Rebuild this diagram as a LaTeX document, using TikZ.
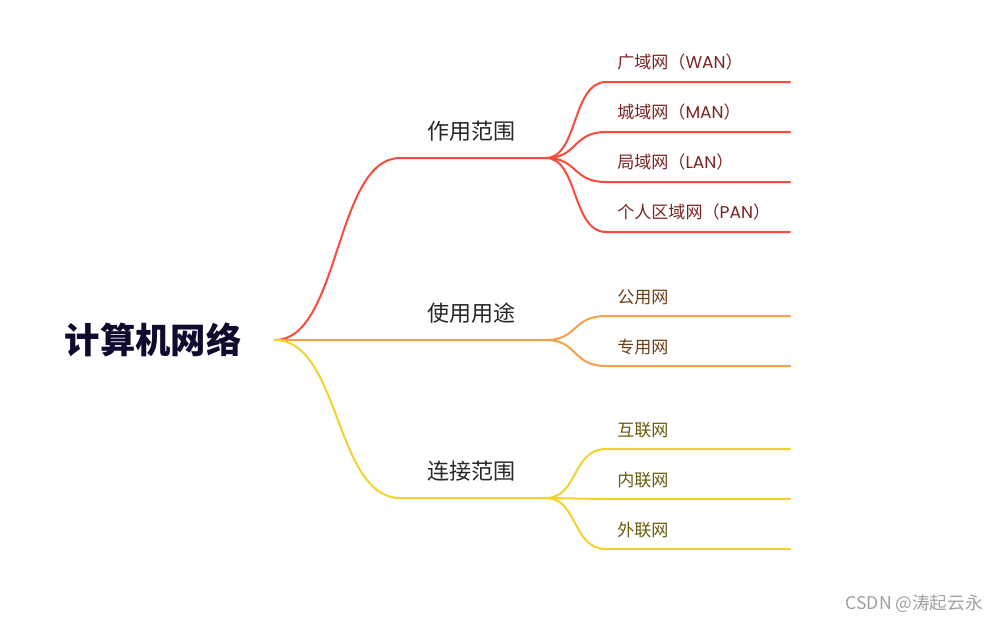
\documentclass[tikz,border=0pt]{standalone}
\usepackage{fontspec}
\setmainfont{Noto Sans CJK SC}
\newfontfamily\latinpart{Poppins}
\usepackage{xcolor}
\usepackage{tikz}
\definecolor{rootink}{HTML}{0E0B2F}
\definecolor{branchink}{HTML}{262626}
\definecolor{redline}{HTML}{F94A3E}
\definecolor{redink}{HTML}{7B2323}
\definecolor{orangeline}{HTML}{F7A04C}
\definecolor{orangeink}{HTML}{6E3E12}
\definecolor{yellowline}{HTML}{F4D22E}
\definecolor{yellowink}{HTML}{6A5A0C}
\definecolor{markgray}{HTML}{A0A0A0}
\newcommand{\abbr}[1]{{\latinpart #1}}
\tikzset{
  rootnode/.style={font=\fontsize{26.5}{30}\selectfont\bfseries,text=rootink,inner sep=0pt},
  branchnode/.style={font=\fontsize{16.5}{20}\selectfont,text=branchink,inner sep=0pt},
  leafnode/.style={font=\fontsize{12.8}{15}\selectfont,anchor=west,inner sep=0pt},
  mapline/.style={line width=1.5pt,line cap=round}
}
\begin{document}
\begin{tikzpicture}[x=0.75pt,y=-0.75pt]
\useasboundingbox (0,0) rectangle (998,622);
\node[rootnode] (root) at (153,340) {计算机网络};
\coordinate (hub) at (275,340);
% branches
\node[branchnode] (scope) at (471,131) {作用范围};
\node[branchnode] (usage) at (471,313) {使用用途};
\node[branchnode] (link) at (471,471) {连接范围};
\coordinate (scopeL) at (400,158);
\coordinate (scopeR) at (546,158);
\coordinate (usageL) at (400,340);
\coordinate (usageR) at (546,340);
\coordinate (linkL) at (400,498);
\coordinate (linkR) at (546,498);
\draw[mapline,redline] (hub) .. controls (340,340) and (335,158) .. (scopeL) -- (scopeR);
\draw[mapline,orangeline] (hub) -- (usageL) -- (usageR);
\draw[mapline,yellowline] (hub) .. controls (340,340) and (335,498) .. (linkL) -- (linkR);
% leaves of scope
\node[leafnode,text=redink] (wan) at (617,62) {广域网（\abbr{WAN}）};
\node[leafnode,text=redink] (man) at (617,112) {城域网（\abbr{MAN}）};
\node[leafnode,text=redink] (lan) at (617,162) {局域网（\abbr{LAN}）};
\node[leafnode,text=redink] (pan) at (617,212) {个人区域网（\abbr{PAN}）};
\coordinate (wanL) at (606,82);  \coordinate (wanR) at (790,82);
\coordinate (manL) at (606,132); \coordinate (manR) at (790,132);
\coordinate (lanL) at (606,182); \coordinate (lanR) at (790,182);
\coordinate (panL) at (606,232); \coordinate (panR) at (790,232);
\draw[mapline,redline] (scopeR) .. controls (578,158) and (572,82) .. (wanL) -- (wanR);
\draw[mapline,redline] (scopeR) .. controls (578,158) and (572,132) .. (manL) -- (manR);
\draw[mapline,redline] (scopeR) .. controls (578,158) and (572,182) .. (lanL) -- (lanR);
\draw[mapline,redline] (scopeR) .. controls (578,158) and (572,232) .. (panL) -- (panR);
% leaves of usage
\node[leafnode,text=orangeink] (public) at (617,297) {公用网};
\node[leafnode,text=orangeink] (private) at (617,347) {专用网};
\coordinate (publicL) at (606,316);  \coordinate (publicR) at (790,316);
\coordinate (privateL) at (606,366); \coordinate (privateR) at (790,366);
\draw[mapline,orangeline] (usageR) .. controls (578,340) and (572,316) .. (publicL) -- (publicR);
\draw[mapline,orangeline] (usageR) .. controls (578,340) and (572,366) .. (privateL) -- (privateR);
% leaves of link
\node[leafnode,text=yellowink] (internet) at (617,430) {互联网};
\node[leafnode,text=yellowink] (intranet) at (617,480) {内联网};
\node[leafnode,text=yellowink] (extranet) at (617,530) {外联网};
\coordinate (internetL) at (606,449); \coordinate (internetR) at (790,449);
\coordinate (intranetL) at (606,499); \coordinate (intranetR) at (790,499);
\coordinate (extranetL) at (606,549); \coordinate (extranetR) at (790,549);
\draw[mapline,yellowline] (linkR) .. controls (578,498) and (572,449) .. (internetL) -- (internetR);
\draw[mapline,yellowline] (linkR) -- (intranetL) -- (intranetR);
\draw[mapline,yellowline] (linkR) .. controls (578,498) and (572,549) .. (extranetL) -- (extranetR);
% watermark
\node[font=\fontsize{13.2}{15}\selectfont,text=markgray,anchor=east,inner sep=0pt] (mark) at (983,604) {CSDN @涛起云永};
\end{tikzpicture}
\end{document}
